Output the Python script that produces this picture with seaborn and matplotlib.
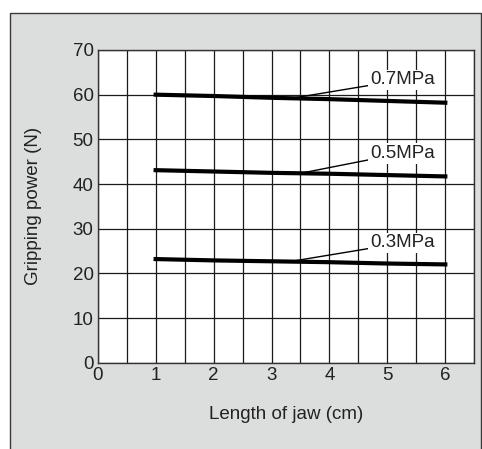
import seaborn as sns
import pandas as pd
import matplotlib.pyplot as plt
from matplotlib.patches import Rectangle

# jaw length (cm) and gripping power (N) per pressure
jaw_length = [1, 2, 3, 4, 5, 6]
power_07 = [60.0, 59.7, 59.3, 59.0, 58.6, 58.2]
power_05 = [43.1, 42.8, 42.5, 42.3, 42.0, 41.7]
power_03 = [23.2, 22.9, 22.7, 22.5, 22.2, 22.0]
pressures = ['0.7MPa', '0.5MPa', '0.3MPa']

# leader line anchor on curve, and label position
label_anchor = [(3.4, 59.3), (3.5, 42.4), (3.3, 22.6)]
label_text_pos = [(4.7, 63.3), (4.7, 46.9), (4.7, 26.8)]

x_ticks = [0, 1, 2, 3, 4, 5, 6]
y_ticks = [0, 10, 20, 30, 40, 50, 60, 70]


def buildData():
    rows = []
    for name, vals in zip(pressures, [power_07, power_05, power_03]):
        for x, y in zip(jaw_length, vals):
            rows.append({'Length': x, 'Power': y, 'Pressure': name})
    return pd.DataFrame(rows)


def showPlot(dataset):
    plt.rcParams['font.family'] = ['Liberation Sans', 'DejaVu Sans']
    fig = plt.figure(figsize=(4.82, 4.49), dpi=100)
    fig.patch.set_facecolor('white')
    fig.add_artist(Rectangle((10 / 482, -0.05), 471 / 482, 0.05 + 436 / 449,
                             transform=fig.transFigure, facecolor='#dcdddd',
                             edgecolor='#3a3a3a', linewidth=1.0, zorder=-10))
    ax = fig.add_axes([97.7 / 482, 1 - 362.7 / 449, 376.6 / 482, 312.7 / 449])
    ax.set_facecolor('white')

    sns.lineplot(
        data=dataset,
        x='Length',
        y='Power',
        hue='Pressure',
        palette=['black'] * 3,
        linewidth=3.0,
        legend=False,
        ax=ax,
        zorder=4
    )

    ax.set_xlim(0, 6.5)
    ax.set_ylim(0, 70)
    ax.set_xticks([v / 2 for v in range(14)])
    ax.set_xticklabels([str(x_ticks[v // 2]) if v % 2 == 0 else '' for v in range(14)])
    ax.set_yticks(y_ticks)
    ax.grid(True, color='#1a1a1a', linewidth=0.9)
    ax.set_axisbelow(True)
    ax.tick_params(length=0, labelsize=13.5, colors='#222222', pad=3)
    for s in ax.spines.values():
        s.set_color('#333333')
        s.set_linewidth(1.0)

    for name, anchor, tpos in zip(pressures, label_anchor, label_text_pos):
        ax.annotate(name, xy=anchor, xytext=tpos, ha='left', va='center',
                    fontsize=13.5, color='#222222', zorder=6,
                    bbox=dict(boxstyle='square,pad=0.1', fc='white', ec='none'),
                    arrowprops=dict(arrowstyle='-', color='black', lw=1.0,
                                    shrinkA=0, shrinkB=0))

    ax.set_xlabel('Length of jaw (cm)', fontsize=13.5, color='#222222', labelpad=16)
    ax.set_ylabel('Gripping power (N)', fontsize=13.5, color='#222222', labelpad=22)
    fig.savefig('out.png', dpi=100, facecolor=fig.get_facecolor())


showPlot(buildData())
